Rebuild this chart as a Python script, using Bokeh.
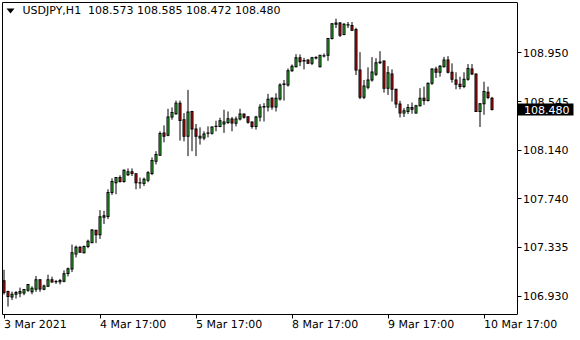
from bokeh.plotting import figure
from bokeh.models import (Range1d, FixedTicker, Label, PrintfTickFormatter, ColumnDataSource,
                          PolyAnnotation, LinearAxis)
from bokeh.embed import file_html
from bokeh.resources import INLINE

symbol = "USDJPY,H1"

opens = [107.060, 106.969, 106.924, 106.947, 106.955, 106.958, 106.980, 106.967, 106.988, 107.068,
         106.988, 107.013, 107.068, 107.053, 107.051, 107.054, 107.120, 107.156, 107.280, 107.338,
         107.291, 107.343, 107.375, 107.478, 107.441, 107.585, 107.593, 107.791, 107.873, 107.915,
         107.882, 107.938, 107.964, 107.948, 107.873, 107.865, 107.892, 107.950, 108.051, 108.101,
         108.286, 108.266, 108.418, 108.445, 108.533, 108.395, 108.258, 108.464, 108.319, 108.244,
         108.244, 108.283, 108.282, 108.342, 108.340, 108.360, 108.373, 108.401, 108.366, 108.401,
         108.442, 108.420, 108.376, 108.340, 108.418, 108.501, 108.500, 108.574, 108.500, 108.568,
         108.688, 108.684, 108.802, 108.835, 108.909, 108.886, 108.890, 108.863, 108.907, 108.835,
         108.925, 108.931, 109.069, 109.187, 109.197, 109.102, 109.182, 109.178, 109.143, 108.807,
         108.582, 108.665, 108.725, 108.772, 108.868, 108.882, 108.657, 108.774, 108.648, 108.525,
         108.450, 108.464, 108.497, 108.450, 108.511, 108.574, 108.554, 108.698, 108.816, 108.789,
         108.835, 108.890, 108.789, 108.725, 108.690, 108.670, 108.731, 108.816, 108.774, 108.464,
         108.527, 108.624, 108.573]

highs = [107.150, 106.977, 106.969, 106.973, 107.002, 106.991, 107.029, 107.013, 107.098, 107.072,
         107.027, 107.109, 107.093, 107.066, 107.074, 107.145, 107.169, 107.359, 107.351, 107.346,
         107.351, 107.400, 107.488, 107.480, 107.645, 107.639, 107.818, 107.909, 107.917, 107.934,
         107.983, 107.991, 107.991, 107.950, 107.915, 107.915, 107.969, 108.082, 108.134, 108.299,
         108.348, 108.486, 108.497, 108.554, 108.554, 108.450, 108.643, 108.469, 108.360, 108.332,
         108.299, 108.340, 108.340, 108.387, 108.412, 108.478, 108.464, 108.418, 108.422, 108.486,
         108.445, 108.422, 108.381, 108.428, 108.525, 108.533, 108.610, 108.581, 108.615, 108.698,
         108.725, 108.821, 108.854, 108.939, 108.937, 108.909, 108.896, 108.917, 108.923, 108.931,
         108.945, 109.074, 109.197, 109.234, 109.206, 109.197, 109.206, 109.206, 109.158, 108.956,
         108.725, 108.830, 108.915, 108.906, 108.964, 108.886, 108.840, 108.813, 108.651, 108.552,
         108.492, 108.525, 108.538, 108.519, 108.657, 108.670, 108.703, 108.821, 108.835, 108.849,
         108.917, 108.923, 108.863, 108.789, 108.752, 108.789, 108.857, 108.857, 108.778, 108.533,
         108.711, 108.670, 108.585]

lows = [106.944, 106.845, 106.899, 106.911, 106.922, 106.939, 106.967, 106.947, 106.967, 106.967,
        106.980, 107.008, 107.043, 107.033, 107.029, 107.046, 107.095, 107.131, 107.252, 107.291,
        107.286, 107.329, 107.373, 107.371, 107.406, 107.530, 107.571, 107.771, 107.777, 107.873,
        107.873, 107.928, 107.928, 107.818, 107.824, 107.845, 107.876, 107.936, 108.024, 108.098,
        108.208, 108.258, 108.395, 108.436, 108.222, 108.216, 108.093, 108.134, 108.093, 108.189,
        108.225, 108.249, 108.272, 108.299, 108.333, 108.286, 108.360, 108.299, 108.340, 108.389,
        108.404, 108.362, 108.321, 108.313, 108.381, 108.381, 108.464, 108.478, 108.464, 108.554,
        108.554, 108.670, 108.793, 108.830, 108.840, 108.813, 108.857, 108.849, 108.896, 108.830,
        108.912, 108.884, 109.061, 109.156, 109.082, 109.096, 109.156, 109.131, 108.766, 108.566,
        108.566, 108.648, 108.711, 108.758, 108.857, 108.620, 108.601, 108.546, 108.492, 108.414,
        108.418, 108.442, 108.445, 108.445, 108.505, 108.519, 108.546, 108.684, 108.742, 108.752,
        108.830, 108.779, 108.703, 108.648, 108.648, 108.657, 108.719, 108.766, 108.461, 108.335,
        108.436, 108.566, 108.472]

closes = [106.961, 106.928, 106.948, 106.961, 106.969, 106.986, 107.027, 106.996, 107.068, 106.991,
          107.016, 107.068, 107.049, 107.050, 107.062, 107.117, 107.159, 107.291, 107.338, 107.296,
          107.343, 107.387, 107.480, 107.441, 107.590, 107.598, 107.791, 107.882, 107.915, 107.882,
          107.975, 107.964, 107.948, 107.873, 107.871, 107.901, 107.956, 108.057, 108.107, 108.280,
          108.258, 108.418, 108.455, 108.533, 108.389, 108.258, 108.459, 108.319, 108.258, 108.258,
          108.277, 108.286, 108.335, 108.340, 108.387, 108.376, 108.404, 108.368, 108.401, 108.442,
          108.416, 108.375, 108.340, 108.418, 108.500, 108.505, 108.566, 108.500, 108.574, 108.684,
          108.692, 108.802, 108.840, 108.909, 108.876, 108.882, 108.863, 108.909, 108.911, 108.931,
          108.927, 109.069, 109.192, 109.197, 109.096, 109.187, 109.184, 109.137, 108.807, 108.582,
          108.676, 108.725, 108.791, 108.868, 108.875, 108.657, 108.785, 108.648, 108.525, 108.450,
          108.469, 108.497, 108.483, 108.511, 108.574, 108.554, 108.698, 108.816, 108.789, 108.840,
          108.890, 108.789, 108.731, 108.690, 108.670, 108.731, 108.821, 108.774, 108.464, 108.527,
          108.629, 108.579, 108.480]

x_tick_bars = [0, 24, 48, 72, 96, 120]
x_tick_labels = ["3 Mar 2021", "4 Mar 17:00", "5 Mar 17:00", "8 Mar 17:00", "9 Mar 17:00", "10 Mar 17:00"]
y_ticks = [106.930, 107.335, 107.740, 108.140, 108.545, 108.950]

UP_COLOR = "#32CD32"
DOWN_COLOR = "#E01010"
FONT = "DejaVu Sans"

# chart window: bars from X_LO, price-scale line at X_EDGE, frame extends to X_HI
X_LO, X_EDGE, X_HI = -0.375, 128.25, 143.625
Y_LO, Y_HI = 106.779, 109.368
FRAME_H = 314
half_px = (Y_HI - Y_LO) / FRAME_H / 2.0   # half a screen pixel in price units
TICK_OUT, STANDOFF = 4, 2

n = len(opens)
xs = list(range(n))
tops = [max(o, c) for o, c in zip(opens, closes)]
bottoms = [min(o, c) for o, c in zip(opens, closes)]
colors = [UP_COLOR if c >= o else DOWN_COLOR for o, c in zip(opens, closes)]
# black outline box (one pixel larger than the body) and coloured inner fill
out_top = [t + half_px for t in tops]
out_bot = [b - half_px for b in bottoms]
in_top = [t - half_px if (t - b) > 2 * half_px else b for t, b in zip(tops, bottoms)]
in_bot = [b + half_px if (t - b) > 2 * half_px else b for t, b in zip(tops, bottoms)]

src = ColumnDataSource(dict(x=xs, high=highs, low=lows, out_top=out_top, out_bot=out_bot,
                            in_top=in_top, in_bot=in_bot, color=colors))

p = figure(width=580, height=340, output_backend="svg", toolbar_location=None,
           x_range=Range1d(X_LO, X_HI), y_range=Range1d(Y_LO, Y_HI),
           y_axis_location="right", min_border_left=2, min_border_top=2,
           min_border_right=2, min_border_bottom=24)
p.background_fill_color = "white"
p.border_fill_color = "white"
p.outline_line_color = None
p.xgrid.visible = False
p.ygrid.visible = False

p.segment(x0="x", y0="low", x1="x", y1="high", source=src, line_color="black", line_width=1)
p.vbar(x="x", width=0.75, top="out_top", bottom="out_bot", source=src,
       fill_color="black", line_color=None)
p.vbar(x="x", width=0.25, top="in_top", bottom="in_bot", source=src,
       fill_color="color", line_color=None)

# the price-scale label that sits under the current-price marker is drawn as a Label,
# so that the marker can cover it
price = closes[-1]
hidden_tick = min(y_ticks, key=lambda t: abs(t - price))

# axes
p.xaxis.ticker = FixedTicker(ticks=x_tick_bars)
p.xaxis.major_label_overrides = {b: t for b, t in zip(x_tick_bars, x_tick_labels)}
p.xaxis.major_label_orientation = -0.0005
p.xaxis.bounds = (X_LO, X_EDGE)
p.yaxis.ticker = FixedTicker(ticks=y_ticks)
p.yaxis.formatter = PrintfTickFormatter(format="%.3f")
p.yaxis.major_label_overrides = {hidden_tick: ""}
p.yaxis.fixed_location = X_EDGE
for ax in (p.xaxis, p.yaxis):
    ax.major_tick_in = 0
    ax.major_tick_out = TICK_OUT
    ax.minor_tick_in = 0
    ax.minor_tick_out = 0
    ax.major_label_standoff = STANDOFF
    ax.major_label_text_font = FONT
    ax.major_label_text_font_size = "11px"
    ax.major_label_text_color = "black"
    ax.axis_line_color = "black"
    ax.major_tick_line_color = "black"
p.xaxis.major_label_standoff = 6

# plain border lines (top and left) of the chart window
for place, bnds in (("above", (X_LO, X_EDGE)), ("left", None)):
    border = LinearAxis(ticker=FixedTicker(ticks=[]), major_tick_out=0, major_tick_in=0,
                        minor_tick_out=0, minor_tick_in=0, major_label_standoff=0,
                        axis_line_color="black")
    if bnds is not None:
        border.bounds = bnds
    p.add_layout(border, place)

# header
p.add_layout(PolyAnnotation(xs=[4, 12, 8], ys=[306, 306, 301], xs_units="screen", ys_units="screen",
                            fill_color="black", fill_alpha=1, line_color="black", line_width=0))
header = f"{symbol} \u00a0{opens[-1]:.3f} {highs[-1]:.3f} {lows[-1]:.3f} {closes[-1]:.3f}"
p.add_layout(Label(x=20, y=304, x_units="screen", y_units="screen", text=header,
                   text_font=FONT, text_font_size="11px", text_color="black",
                   text_baseline="middle", text_align="left"))

# scale label under the marker
p.add_layout(Label(x=X_EDGE, y=hidden_tick, x_offset=TICK_OUT + STANDOFF + 0.5,
                   text=f"{hidden_tick:.3f}", text_font=FONT, text_font_size="11px",
                   text_color="black", text_baseline="middle", text_align="left"))

# current price marker on the price scale
p.add_layout(Label(x=X_EDGE, y=price, x_offset=1,
                   text=f"{price:.3f}", text_font=FONT, text_font_size="11px",
                   text_color="white", text_baseline="middle", text_align="left",
                   background_fill_color="black", background_fill_alpha=1.0,
                   padding=dict(left=6, right=4, top=2, bottom=2)))

open("out.html", "w").write(file_html(p, INLINE))
